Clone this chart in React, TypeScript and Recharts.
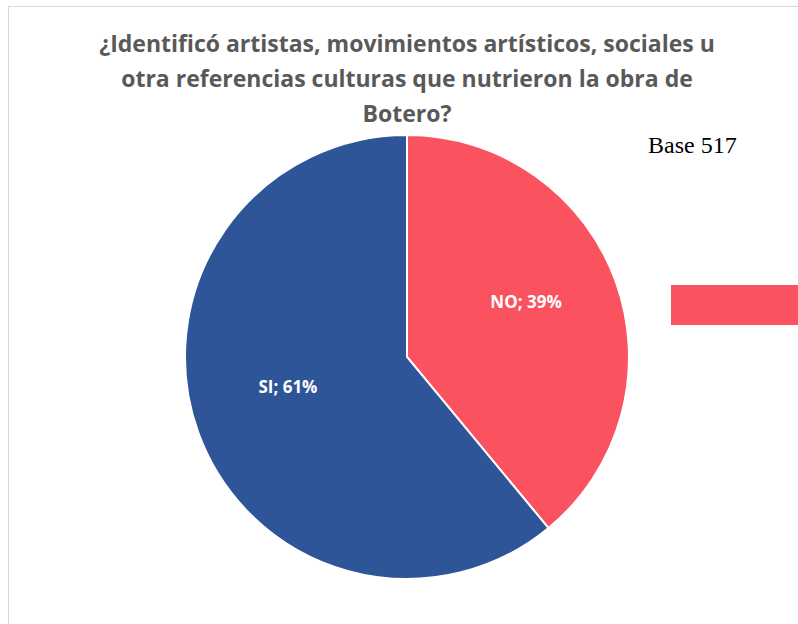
import { PieChart, Pie, Cell } from 'recharts'

const categories = ['NO', 'SI']
const values = [39, 61]
const titleLines = [
  '¿Identificó artistas, movimientos artísticos, sociales u',
  'otra referencias culturas que nutrieron la obra de',
  'Botero?',
]
const baseNote = 'Base 517'

const COLORS = ['#FA525F', '#2E5597']

const data = categories.map((name, i) => ({ name, value: values[i] }))

// Excel-style data labels: a bit inside the slice, sitting slightly high
const renderLabel = (props: {
  cx?: number
  cy?: number
  midAngle?: number
  outerRadius?: number
  name?: string
  value?: number
}) => {
  const { cx = 0, cy = 0, midAngle = 0, outerRadius = 0, name = '', value = 0 } = props
  const RADIAN = Math.PI / 180
  const radius = outerRadius * 0.57
  const x = cx + radius * Math.cos(-midAngle * RADIAN)
  const y = cy + radius * Math.sin(-midAngle * RADIAN) - 13
  return (
    <text
      x={x}
      y={y}
      fill="#ffffff"
      textAnchor="middle"
      dominantBaseline="central"
      fontFamily="'Open Sans', sans-serif"
      fontSize={17}
      fontWeight={700}
    >
      {`${name}; ${value}%`}
    </text>
  )
}

export default function App() {
  return (
    <div
      style={{
        position: 'fixed',
        left: 0,
        top: 0,
        width: 798,
        height: 624,
        overflow: 'hidden',
        background: '#ffffff',
      }}
    >
      <div
        style={{
          position: 'absolute',
          left: 8,
          top: 6,
          width: 800,
          height: 630,
          borderLeft: '1px solid #d9d9d9',
          borderTop: '1px solid #d9d9d9',
        }}
      />
      <div
        style={{
          position: 'absolute',
          left: 7,
          top: 26,
          width: 800,
          textAlign: 'center',
          fontFamily: "'Open Sans', sans-serif",
          fontWeight: 700,
          fontSize: 23,
          lineHeight: '35px',
          color: '#595959',
        }}
      >
        {titleLines.map((line) => (
          <div key={line}>{line}</div>
        ))}
      </div>
      <div
        style={{
          position: 'absolute',
          left: 648,
          top: 132,
          fontFamily: "'Liberation Serif', 'Times New Roman', serif",
          fontSize: 24,
          color: '#000000',
        }}
      >
        {baseNote}
      </div>
      <div style={{ position: 'absolute', left: 0, top: 0 }}>
        <PieChart width={798} height={624} margin={{ top: 0, right: 0, bottom: 0, left: 0 }}>
          <Pie
            data={data}
            dataKey="value"
            nameKey="name"
            cx={407}
            cy={357}
            outerRadius={222}
            startAngle={90}
            endAngle={-270}
            labelLine={false}
            label={renderLabel}
            stroke="#ffffff"
            strokeWidth={2}
            isAnimationActive={false}
          >
            {data.map((entry, index) => (
              <Cell key={`cell-${entry.name}`} fill={COLORS[index]} />
            ))}
          </Pie>
        </PieChart>
      </div>
      <div
        style={{
          position: 'absolute',
          left: 671,
          top: 285,
          width: 140,
          height: 40,
          background: COLORS[0],
        }}
      />
    </div>
  )
}
